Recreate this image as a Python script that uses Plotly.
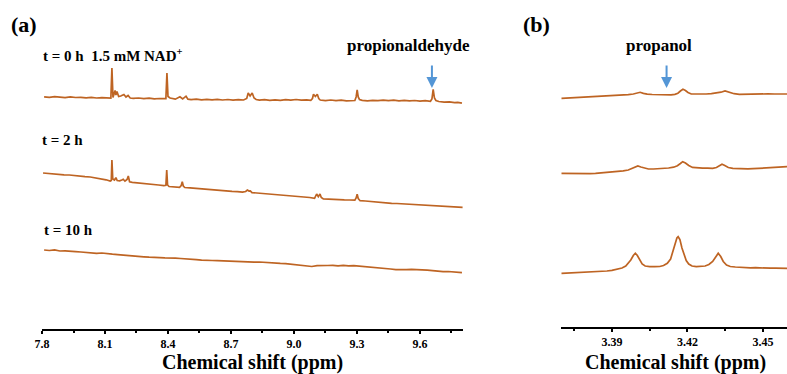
import plotly.graph_objects as go

# 1H NMR spectra, (ppm, intensity) pairs; intensities are relative to each trace's start level
SPEC_A_T0 = [
    (7.81, 0.2), (7.835, -0.4), (7.86, 0.3), (7.885, -0.2), (7.91, -0.6), (7.935, 0.1),
    (7.96, -0.5), (7.985, -0.3), (8.01, -0.9), (8.035, -0.4), (8.06, -1.0), (8.085, -0.6),
    (8.11, -1.1), (8.128, -1.0), (8.133, 29.0), (8.138, -0.5), (8.148, 6.5), (8.152, 2.0),
    (8.157, 5.5), (8.165, 0.5), (8.175, 1.0), (8.19, 2.5), (8.2, 0.0), (8.21, 1.5),
    (8.22, -1.0), (8.235, -1.4), (8.26, -1.0), (8.285, -1.7), (8.31, -1.2), (8.335, -1.9),
    (8.36, -1.5), (8.385, -2.0), (8.39, -1.6), (8.395, 24.0), (8.4, 0.5), (8.41, -1.0),
    (8.435, -2.2), (8.457, 0.2), (8.47, -2.0), (8.486, 0.8), (8.495, -2.1), (8.51, -2.6),
    (8.535, -2.1), (8.56, -2.8), (8.585, -2.3), (8.61, -2.9), (8.635, -2.4), (8.66, -3.0),
    (8.685, -2.5), (8.71, -3.1), (8.735, -2.6), (8.76, -3.0), (8.775, -1.5), (8.782, 4.0),
    (8.791, 1.0), (8.801, 4.0), (8.81, -1.0), (8.82, -2.5), (8.835, -3.2), (8.86, -2.6),
    (8.885, -3.3), (8.91, -2.8), (8.935, -3.4), (8.96, -2.7), (8.985, -3.2), (9.01, -2.5),
    (9.035, -3.1), (9.06, -2.9), (9.08, -3.3), (9.088, -1.5), (9.093, 2.8), (9.102, 0.5),
    (9.111, 2.8), (9.118, -1.5), (9.125, -3.0), (9.15, -3.6), (9.175, -3.0), (9.2, -3.7),
    (9.225, -3.2), (9.25, -3.8), (9.275, -3.3), (9.29, -3.5), (9.296, 0.0), (9.301, 7.0),
    (9.306, 0.0), (9.312, -2.5), (9.325, -3.4), (9.35, -3.9), (9.375, -3.3), (9.4, -3.6),
    (9.425, -3.1), (9.45, -3.7), (9.475, -3.2), (9.5, -3.8), (9.525, -3.3), (9.55, -3.9),
    (9.575, -3.5), (9.6, -4.1), (9.625, -3.6), (9.65, -4.3), (9.657, -2.0), (9.663, 7.7),
    (9.669, -1.0), (9.676, -3.5), (9.69, -4.5), (9.715, -5.2), (9.74, -4.8), (9.765, -5.6),
    (9.78, -5.3), (9.80, -6.2),
]

SPEC_A_T2 = [
    (7.805, 0.0), (7.83, -0.6), (7.855, -0.9), (7.88, -1.3), (7.905, -1.8), (7.93, -2.0),
    (7.955, -2.7), (7.98, -3.0), (8.005, -3.6), (8.03, -4.0), (8.055, -4.8), (8.08, -5.3),
    (8.105, -6.8), (8.125, -8.0), (8.13, -7.5), (8.133, 13.0), (8.137, -6.0), (8.145, -7.0),
    (8.152, -4.7), (8.158, -7.5), (8.17, -7.8), (8.18, -7.0), (8.187, -6.3), (8.195, -8.2),
    (8.205, -6.5), (8.211, -3.0), (8.217, -8.8), (8.23, -9.4), (8.255, -9.8), (8.28, -10.6),
    (8.305, -10.9), (8.33, -11.5), (8.355, -12.0), (8.38, -12.6), (8.39, -12.3), (8.394, 3.0),
    (8.398, -12.0), (8.405, -13.5), (8.43, -13.8), (8.455, -14.3), (8.463, -12.5),
    (8.468, -8.7), (8.473, -13.0), (8.48, -14.5), (8.505, -14.8), (8.53, -15.3),
    (8.555, -16.0), (8.58, -16.3), (8.605, -16.9), (8.63, -17.1), (8.655, -17.6),
    (8.68, -17.9), (8.705, -18.3), (8.73, -18.6), (8.755, -19.2), (8.77, -18.5),
    (8.778, -17.0), (8.786, -18.0), (8.792, -17.8), (8.80, -19.6), (8.825, -20.0),
    (8.85, -20.5), (8.875, -21.0), (8.90, -21.6), (8.925, -22.0), (8.95, -22.3),
    (8.975, -22.9), (9.0, -23.3), (9.025, -23.6), (9.05, -24.2), (9.075, -24.5),
    (9.098, -25.3), (9.104, -23.0), (9.108, -21.0), (9.116, -23.7), (9.124, -21.0),
    (9.13, -24.5), (9.14, -26.0), (9.165, -26.2), (9.19, -26.6), (9.215, -26.5),
    (9.24, -26.9), (9.265, -27.0), (9.29, -27.2), (9.296, -25.0), (9.301, -21.3),
    (9.306, -25.5), (9.315, -27.7), (9.34, -28.0), (9.365, -28.6), (9.39, -28.9),
    (9.415, -29.4), (9.44, -29.7), (9.465, -30.3), (9.49, -30.5), (9.515, -30.8),
    (9.54, -31.0), (9.565, -31.4), (9.59, -31.6), (9.615, -32.0), (9.64, -32.2),
    (9.665, -32.6), (9.69, -32.8), (9.715, -33.2), (9.74, -33.4), (9.765, -33.9),
    (9.79, -34.0), (9.803, -34.4),
]

SPEC_A_T10 = [
    (7.81, 0.0), (7.835, -0.5), (7.86, 0.2), (7.885, -1.0), (7.91, -0.8), (7.935, -1.5),
    (7.96, -1.6), (7.985, -2.0), (8.01, -2.5), (8.035, -2.4), (8.06, -3.3), (8.085, -3.0),
    (8.11, -3.8), (8.135, -4.2), (8.16, -4.6), (8.185, -4.9), (8.21, -5.6), (8.235, -5.8),
    (8.26, -6.1), (8.285, -6.8), (8.31, -7.2), (8.335, -7.1), (8.36, -7.6), (8.385, -7.9),
    (8.41, -7.7), (8.435, -8.2), (8.46, -8.5), (8.485, -9.1), (8.51, -9.4), (8.535, -9.7),
    (8.56, -10.1), (8.585, -10.0), (8.61, -10.5), (8.635, -10.6), (8.66, -10.9),
    (8.685, -11.0), (8.71, -11.4), (8.735, -11.5), (8.76, -11.9), (8.785, -11.8),
    (8.81, -12.1), (8.835, -12.0), (8.86, -12.5), (8.885, -12.7), (8.91, -13.0),
    (8.935, -13.4), (8.96, -13.6), (8.985, -14.3), (9.01, -14.8), (9.035, -15.6),
    (9.06, -16.3), (9.085, -16.5), (9.11, -15.6), (9.135, -15.2), (9.16, -15.5),
    (9.185, -15.3), (9.21, -15.8), (9.235, -15.4), (9.26, -15.9), (9.285, -15.6),
    (9.31, -16.0), (9.335, -16.6), (9.36, -17.0), (9.385, -17.4), (9.41, -17.8),
    (9.435, -18.3), (9.46, -19.0), (9.485, -19.6), (9.51, -20.0), (9.535, -19.7),
    (9.56, -19.4), (9.585, -19.6), (9.61, -19.3), (9.635, -20.1), (9.66, -20.6),
    (9.685, -21.2), (9.71, -21.7), (9.735, -21.5), (9.76, -22.0), (9.785, -22.3),
    (9.80, -22.7),
]

SPEC_B_T0 = [
    (3.3700, -0.3), (3.3725, 0.0), (3.3747, 0.3), (3.3770, 0.5), (3.3790, 1.2),
    (3.3813, 1.7), (3.3835, 1.9), (3.3858, 2.0), (3.3879, 2.3), (3.3900, 2.4),
    (3.3922, 2.7), (3.3944, 3.0), (3.3965, 3.3), (3.3985, 4.0), (3.4000, 5.0),
    (3.4012, 5.7), (3.4025, 4.6), (3.4040, 3.8), (3.4060, 3.5), (3.4080, 3.3),
    (3.4100, 3.2), (3.4116, 3.0), (3.4135, 3.2), (3.4150, 3.7), (3.4162, 4.8),
    (3.4172, 7.0), (3.4182, 8.7), (3.4192, 7.5), (3.4202, 5.5), (3.4215, 4.0),
    (3.4235, 3.8), (3.4255, 4.1), (3.4274, 4.0), (3.4295, 4.3), (3.4315, 4.8),
    (3.4333, 5.8), (3.4349, 7.0), (3.4365, 5.6), (3.4385, 4.3), (3.4406, 3.7),
    (3.4430, 3.9), (3.4450, 4.0), (3.4472, 4.0), (3.4495, 3.8), (3.4520, 4.1),
    (3.4545, 4.0), (3.4565, 4.2), (3.4595, 4.0),
]

SPEC_B_T2 = [
    (3.3700, -0.3), (3.3725, -0.4), (3.3747, -0.5), (3.3770, -0.7), (3.3790, -1.0),
    (3.3813, -0.7), (3.3835, -0.4), (3.3858, 0.0), (3.3880, 0.4), (3.3903, 1.0),
    (3.3925, 1.4), (3.3945, 2.2), (3.3965, 3.0), (3.3980, 4.5), (3.3992, 6.2),
    (3.4003, 7.0), (3.4015, 6.0), (3.4028, 4.8), (3.4045, 4.0), (3.4065, 4.0),
    (3.4085, 4.2), (3.4105, 4.5), (3.4125, 5.0), (3.4145, 5.8), (3.4160, 7.3),
    (3.4172, 9.5), (3.4181, 11.3), (3.4192, 10.0), (3.4205, 7.5), (3.4220, 5.6),
    (3.4240, 5.0), (3.4260, 4.8), (3.4280, 4.9), (3.4300, 4.7), (3.4315, 5.5),
    (3.4327, 7.5), (3.4337, 8.7), (3.4348, 7.5), (3.4362, 5.5), (3.4380, 4.7),
    (3.4400, 4.3), (3.4420, 4.0), (3.4440, 4.1), (3.4460, 4.3), (3.4480, 4.5),
    (3.4500, 4.7), (3.4520, 5.0), (3.4540, 5.5), (3.4560, 5.8), (3.4580, 6.1),
    (3.4595, 6.3),
]

SPEC_B_T10 = [
    (3.3700, -0.3), (3.3725, 0.0), (3.3747, 0.3), (3.3770, 0.2), (3.3790, 0.6),
    (3.3813, 0.8), (3.3835, 1.2), (3.3858, 1.5), (3.3880, 2.0), (3.3900, 2.6),
    (3.3920, 3.5), (3.3940, 5.0), (3.3955, 7.0), (3.3965, 9.5), (3.3975, 13.0),
    (3.3985, 17.5), (3.3993, 19.7), (3.4001, 17.5), (3.4010, 13.0), (3.4020, 9.0),
    (3.4032, 7.0), (3.4050, 6.3), (3.4070, 6.3), (3.4090, 6.5), (3.4105, 7.5),
    (3.4120, 9.7), (3.4133, 14.0), (3.4142, 21.0), (3.4150, 29.0), (3.4158, 35.0),
    (3.4163, 36.3), (3.4170, 33.5), (3.4178, 25.0), (3.4186, 18.0), (3.4195, 12.5),
    (3.4205, 9.0), (3.4218, 7.0), (3.4235, 6.3), (3.4255, 6.4), (3.4270, 7.0),
    (3.4285, 8.5), (3.4300, 11.5), (3.4312, 16.0), (3.4322, 19.7), (3.4332, 16.5),
    (3.4342, 11.5), (3.4355, 8.0), (3.4370, 6.5), (3.4390, 6.0), (3.4410, 5.6),
    (3.4430, 5.3), (3.4450, 5.2), (3.4470, 5.3), (3.4490, 5.0), (3.4510, 5.1),
    (3.4530, 4.8), (3.4550, 4.9), (3.4570, 4.7), (3.4595, 4.7),
]

TIME_LABELS = ["t = 0 h  1.5 mM NAD<sup>+</sup>", "t = 2 h", "t = 10 h"]
STACK_A = [232, 156, 79]     # vertical stacking of panel (a) traces
STACK_B = [231, 156, 56]     # vertical stacking of panel (b) traces

TICKS_A = [7.8, 8.1, 8.4, 8.7, 9.0, 9.3, 9.6]
TICKS_B = [3.39, 3.42, 3.45]
ALDEHYDE_PPM = 9.657
PROPANOL_PPM = 3.4117
X_TITLE = "Chemical shift (ppm)"

LINE_COLOR = "rgb(190,100,35)"
ARROW_COLOR = "rgb(84,150,214)"
SERIF = "Liberation Serif, Times New Roman, serif"

W, H = 787, 374
PLOT_H = 329  # pixel height of the plotting region (axis line sits at its bottom)
DOM_A = (42, 463)   # horizontal extent of panel (a), px
DOM_B = (561, 787)  # horizontal extent of panel (b), px

fig = go.Figure()

for spec, off in zip([SPEC_A_T0, SPEC_A_T2, SPEC_A_T10], STACK_A):
    fig.add_trace(go.Scatter(
        x=[p for p, _ in spec], y=[v + off for _, v in spec],
        mode="lines", line=dict(color=LINE_COLOR, width=1.7),
        xaxis="x", yaxis="y", showlegend=False, hoverinfo="skip"))

for spec, off in zip([SPEC_B_T0, SPEC_B_T2, SPEC_B_T10], STACK_B):
    fig.add_trace(go.Scatter(
        x=[p for p, _ in spec], y=[v + off for _, v in spec],
        mode="lines", line=dict(color=LINE_COLOR, width=1.7),
        xaxis="x2", yaxis="y2", showlegend=False, hoverinfo="skip"))

axis_common = dict(
    showline=True, linecolor="black", linewidth=2,
    ticks="outside", ticklen=3, tickwidth=2, tickcolor="black",
    showgrid=False, zeroline=False, automargin=False,
    tickfont=dict(family=SERIF, size=12, color="black", weight="bold"),
)

fig.update_layout(
    width=W, height=H,
    margin=dict(l=0, r=0, t=0, b=H - PLOT_H, pad=0, autoexpand=False),
    paper_bgcolor="white", plot_bgcolor="white",
    xaxis=dict(domain=[DOM_A[0] / W, DOM_A[1] / W], range=[7.8, 9.805],
               tickvals=TICKS_A, ticktext=[f"{t:.1f}" for t in TICKS_A],
               minor=dict(ticks="outside", ticklen=2, tickwidth=2, tickcolor="black",
                          dtick=0.15, tick0=7.8),
               anchor="y", **axis_common),
    yaxis=dict(domain=[0, 1], range=[0, PLOT_H], visible=False, automargin=False),
    xaxis2=dict(domain=[DOM_B[0] / W, DOM_B[1] / W], range=[3.3698, 3.4595],
                tickvals=TICKS_B, ticktext=[f"{t:.2f}" for t in TICKS_B],
                minor=dict(ticks="outside", ticklen=2, tickwidth=2, tickcolor="black",
                           dtick=0.03, tick0=3.375),
                anchor="y2", **axis_common),
    yaxis2=dict(domain=[2 / PLOT_H, 1], range=[2, PLOT_H], visible=False, automargin=False),
)


def py(pix):
    """Paper y for a pixel row (may lie below the plotting region)."""
    return 1 - pix / PLOT_H


def label(text, x_pix, y_pix, size, anchor="left"):
    fig.add_annotation(
        text=f"<b>{text}</b>", xref="paper", yref="paper",
        x=x_pix / W, y=py(y_pix), xanchor=anchor, yanchor="middle",
        showarrow=False, borderpad=0,
        font=dict(family=SERIF, size=size, color="black"))


label("(a)", 10, 24, 22)
label("(b)", 522, 24, 22)
label(TIME_LABELS[0], 42, 55, 15)
label(TIME_LABELS[1], 41, 140, 15)
label(TIME_LABELS[2], 43, 230, 15)
label("propionaldehyde", 408, 45, 17, anchor="center")
label("propanol", 659, 45, 17, anchor="center")

# axis titles under each panel
label(X_TITLE, sum(DOM_A) / 2, 362.3, 20, anchor="center")
label(X_TITLE, sum(DOM_B) / 2 + 1, 362.3, 20, anchor="center")

# arrows marking the aldehyde and alcohol signals
for xa, ya, xval in [("x", "y", ALDEHYDE_PPM), ("x2", "y2", PROPANOL_PPM)]:
    fig.add_annotation(
        x=xval, y=PLOT_H - 88, xref=xa, yref=ya,
        ax=0, ay=-24, axref="pixel", ayref="pixel",
        text="", showarrow=True, arrowhead=2, arrowsize=1.1, arrowwidth=2,
        arrowcolor=ARROW_COLOR)

fig.write_html("out.html")
